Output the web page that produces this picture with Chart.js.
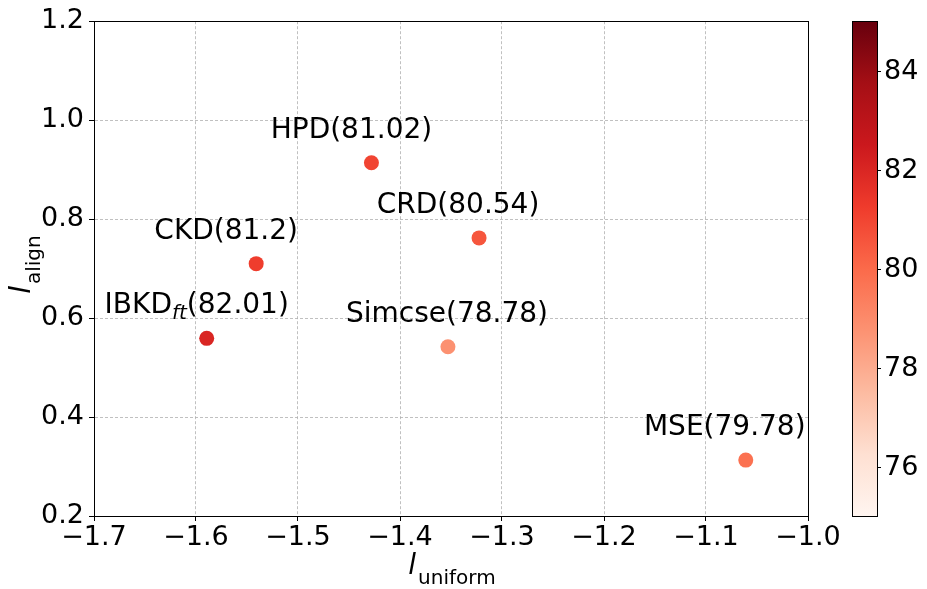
<!DOCTYPE html>
<html>
<head>
<meta charset="utf-8">
<script src="https://cdn.jsdelivr.net/npm/chart.js@4.4.0/dist/chart.umd.min.js"></script>
<style>
  body { margin: 0; background: #fff; }
  #wrap { width: 927px; height: 589px; }
</style>
</head>
<body>
<div id="wrap"><canvas id="scatter"></canvas></div>
<script>
// data
const names = ['HPD', 'CRD', 'CKD', 'IBKD', 'Simcse', 'MSE'];
const subs = ['', '', '', 'ft', '', ''];
const uniform = [-1.428, -1.3225, -1.541, -1.5895, -1.353, -1.061];
const align = [0.914, 0.762, 0.710, 0.559, 0.542, 0.313];
const scores = [81.02, 80.54, 81.2, 82.01, 78.78, 79.78];

const xTicks = [-1.7, -1.6, -1.5, -1.4, -1.3, -1.2, -1.1, -1.0];
const yTicks = [0.2, 0.4, 0.6, 0.8, 1.0, 1.2];
const cbRange = [75, 85];
const cbTicks = [76, 78, 80, 82, 84];

// label nudges in px (as placed in the original)
const labelDx = [-20, -21, -30, -10, -1, -21];
const labelDy = -25;

const FONT = "'DejaVu Sans', sans-serif";
const REDS = ['#fff5f0', '#fee0d2', '#fcbba1', '#fc9272', '#fb6a4a', '#ef3b2c', '#cb181d', '#a50f15', '#67000d'];

function hex2rgb(h) {
    return [parseInt(h.substr(1, 2), 16), parseInt(h.substr(3, 2), 16), parseInt(h.substr(5, 2), 16)];
}
function reds(v) {
    let t = (v - cbRange[0]) / (cbRange[1] - cbRange[0]);
    t = Math.max(0, Math.min(1, t));
    const pos = t * (REDS.length - 1);
    const i = Math.min(Math.floor(pos), REDS.length - 2);
    const f = pos - i;
    const a = hex2rgb(REDS[i]), b = hex2rgb(REDS[i + 1]);
    const c = a.map((x, k) => Math.round(x + (b[k] - x) * f));
    return `rgb(${c[0]},${c[1]},${c[2]})`;
}
function fmt(v) {
    const s = Math.abs(v).toFixed(1);
    return v < 0 ? '\u2212' + s : s;
}

const points = uniform.map((x, i) => ({ x: x, y: align[i] }));

// main text + subscript + rest, centred on cx
function drawSubText(ctx, main, sub, rest, cx, base, size, opt) {
    const mainFont = (opt.italicMain ? 'italic ' : '') + size + 'px ' + FONT;
    const subFont = (opt.italicSub ? 'italic ' : '') + Math.round(size * opt.subScale) + 'px ' + FONT;
    ctx.font = mainFont;
    const w1 = ctx.measureText(main).width;
    const w3 = ctx.measureText(rest).width;
    ctx.font = subFont;
    const w2 = sub ? ctx.measureText(sub).width : 0;
    let x = cx - (w1 + w2 + w3) / 2;
    ctx.textAlign = 'left';
    ctx.textBaseline = 'alphabetic';
    ctx.font = mainFont;
    ctx.fillText(main, x, base);
    x += w1 + (opt.gap || 0);
    if (sub) {
        ctx.font = subFont;
        ctx.fillText(sub, x, base + opt.drop);
        x += w2;
    }
    ctx.font = mainFont;
    ctx.fillText(rest, x, base);
}

const decor = {
    id: 'decor',
    afterDatasetsDraw(chart) {
        const ctx = chart.ctx;
        const meta = chart.getDatasetMeta(0);
        ctx.save();
        ctx.fillStyle = '#000';
        meta.data.forEach((pt, i) => {
            drawSubText(ctx, names[i], subs[i], '(' + scores[i] + ')', pt.x + labelDx[i], pt.y + labelDy, 28,
                { italicMain: false, italicSub: true, subScale: 0.7, drop: 6 });
        });
        ctx.restore();
    },
    afterDraw(chart) {
        const ctx = chart.ctx;
        const a = chart.chartArea;
        ctx.save();
        // frame
        ctx.strokeStyle = '#000';
        ctx.lineWidth = 1;
        ctx.strokeRect(Math.round(a.left) + 0.5, Math.round(a.top) + 0.5,
            Math.round(a.right - a.left), Math.round(a.bottom - a.top));

        // axis titles
        ctx.fillStyle = '#000';
        const titleOpt = { italicMain: true, italicSub: false, subScale: 0.7, drop: 10, gap: 2 };
        drawSubText(ctx, 'l', 'uniform', '', (a.left + a.right) / 2, 574, 28, titleOpt);
        ctx.translate(30, (a.top + a.bottom) / 2 - 3);
        ctx.rotate(-Math.PI / 2);
        drawSubText(ctx, 'l', 'align', '', 0, 0, 28, titleOpt);
        ctx.setTransform(1, 0, 0, 1, 0, 0);
        ctx.restore();

        // colorbar
        ctx.save();
        const cbL = 852, cbR = 877;
        const cbT = a.top, cbB = a.bottom;
        const grad = ctx.createLinearGradient(0, cbB, 0, cbT);
        REDS.forEach((c, i) => grad.addColorStop(i / (REDS.length - 1), c));
        ctx.fillStyle = grad;
        ctx.fillRect(cbL, cbT, cbR - cbL, cbB - cbT);
        ctx.strokeStyle = '#000';
        ctx.lineWidth = 1;
        ctx.strokeRect(cbL + 0.5, Math.round(cbT) + 0.5, cbR - cbL, Math.round(cbB - cbT));
        ctx.fillStyle = '#000';
        ctx.font = '27px ' + FONT;
        ctx.textAlign = 'left';
        ctx.textBaseline = 'middle';
        cbTicks.forEach(v => {
            const y = cbB - (v - cbRange[0]) / (cbRange[1] - cbRange[0]) * (cbB - cbT);
            ctx.beginPath();
            ctx.moveTo(cbR, Math.round(y) + 0.5);
            ctx.lineTo(cbR + 4, Math.round(y) + 0.5);
            ctx.stroke();
            ctx.fillText(String(v), cbR + 7, y + 1);
        });
        ctx.restore();
    }
};

const gridOpts = {
    color: '#b0b0b0',
    lineWidth: 0.8,
    tickColor: '#000',
    tickLength: 5,
    tickWidth: 1,
    tickBorderDash: []
};

new Chart(document.querySelector('#scatter'), {
    type: 'scatter',
    data: {
        datasets: [{
            data: points,
            backgroundColor: scores.map(reds),
            borderWidth: 0,
            pointRadius: 7.5,
            pointHoverRadius: 7.5
        }]
    },
    options: {
        responsive: true,
        maintainAspectRatio: false,
        animation: false,
        layout: { padding: { top: 17, right: 119, left: 0, bottom: 0 } },
        plugins: { legend: { display: false }, tooltip: { enabled: false } },
        scales: {
            x: {
                type: 'linear',
                min: xTicks[0],
                max: xTicks[xTicks.length - 1],
                afterBuildTicks: (s) => { s.ticks = xTicks.map(v => ({ value: v })); },
                afterFit: (s) => { s.height = 73; },
                ticks: {
                    callback: (v) => fmt(v),
                    color: '#000',
                    font: { family: FONT, size: 27 },
                    padding: 1,
                    maxRotation: 0
                },
                grid: gridOpts,
                border: { display: true, color: '#000', width: 1, dash: [3, 2] }
            },
            y: {
                type: 'linear',
                min: yTicks[0],
                max: yTicks[yTicks.length - 1],
                afterBuildTicks: (s) => { s.ticks = yTicks.map(v => ({ value: v })); },
                afterFit: (s) => { s.width = 94; },
                ticks: {
                    callback: (v) => fmt(v),
                    color: '#000',
                    font: { family: FONT, size: 27 },
                    padding: 5
                },
                grid: gridOpts,
                border: { display: true, color: '#000', width: 1, dash: [3, 2] }
            }
        }
    },
    plugins: [decor]
});
</script>
</body>
</html>
